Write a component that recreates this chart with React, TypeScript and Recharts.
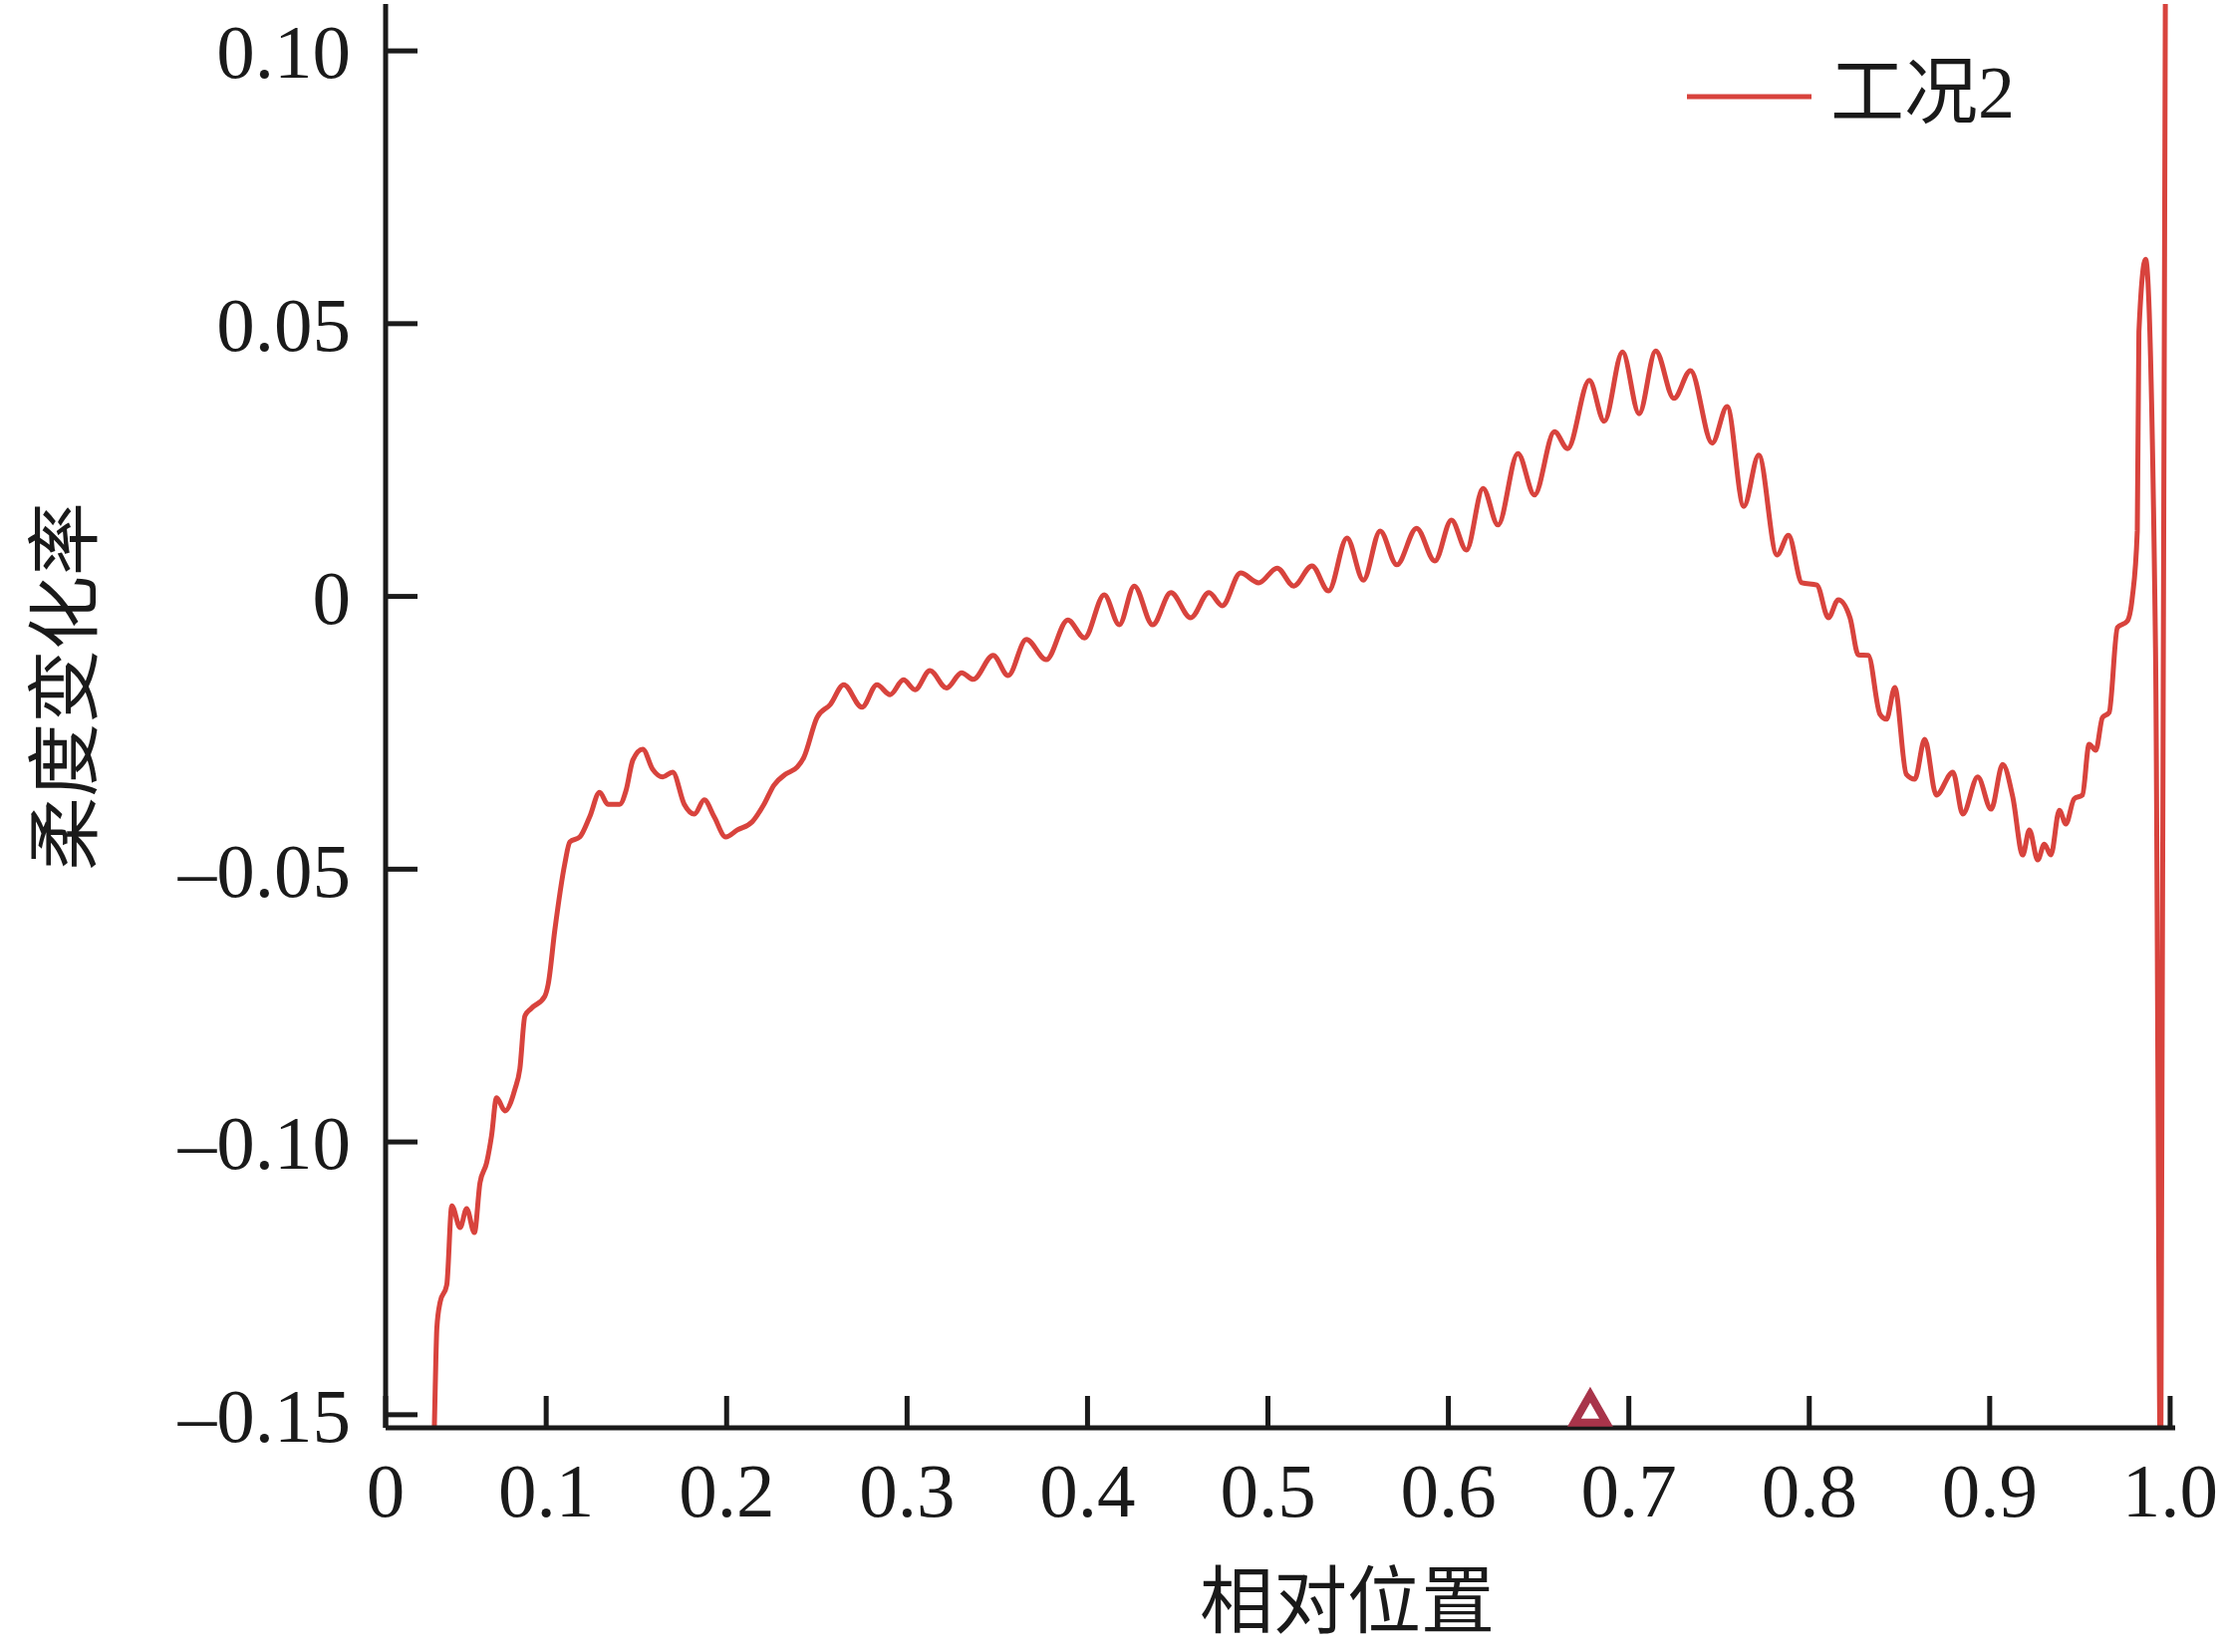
import { Label, Legend, LineChart, Line, ReferenceDot, XAxis, YAxis } from "recharts";

// axis range
const X_MIN = 0.011;
const X_MAX = 1.0028;
const Y_MIN = -0.1524;
const Y_MAX = 0.1086;

const X_TICKS = [X_MIN, 0.1, 0.2, 0.3, 0.4, 0.5, 0.6, 0.7, 0.8, 0.9, 1.0];
const X_TICK_LABELS = ["0", "0.1", "0.2", "0.3", "0.4", "0.5", "0.6", "0.7", "0.8", "0.9", "1.0"];
const Y_TICKS = [-0.15, -0.1, -0.05, 0, 0.05, 0.1];
const Y_TICK_LABELS = ["–0.15", "–0.10", "–0.05", "0", "0.05", "0.10"];

const SERIES_NAME = "工况2";

// 相对位置
const position = [
  0.0375, 0.0385, 0.0394, 0.0412, 0.0449, 0.0477, 0.0523, 0.0559, 0.0602, 0.0633,
  0.067, 0.0697, 0.0725, 0.0771, 0.0827, 0.0854, 0.0882, 0.0918, 0.0992, 0.1011,
  0.1048, 0.1103, 0.1131, 0.1186, 0.1241, 0.1296, 0.1342, 0.1407, 0.1443, 0.148,
  0.1535, 0.159, 0.1646, 0.1701, 0.1765, 0.1821, 0.1876, 0.1931, 0.1995, 0.206,
  0.2142, 0.2207, 0.2262, 0.2326, 0.2391, 0.2428, 0.2501, 0.2575, 0.2649, 0.275,
  0.2833, 0.2906, 0.298, 0.3044, 0.3127, 0.3219, 0.3302, 0.3367, 0.3477, 0.356,
  0.3661, 0.3771, 0.3891, 0.3983, 0.4093, 0.4176, 0.4259, 0.4361, 0.4462, 0.4572,
  0.4673, 0.4747, 0.4848, 0.4949, 0.5051, 0.5143, 0.5244, 0.5336, 0.5438, 0.5529,
  0.5622, 0.5714, 0.5824, 0.5925, 0.6017, 0.61, 0.6192, 0.6275, 0.6385, 0.6477,
  0.6588, 0.6661, 0.6781, 0.6864, 0.6965, 0.7057, 0.7149, 0.725, 0.7342, 0.7462,
  0.7545, 0.7637, 0.772, 0.7821, 0.7885, 0.7959, 0.8042, 0.8106, 0.8161, 0.8226,
  0.8272, 0.8327, 0.8392, 0.8428, 0.8474, 0.8538, 0.8585, 0.864, 0.8704, 0.8796,
  0.8851, 0.8934, 0.9008, 0.9072, 0.9128, 0.9183, 0.922, 0.9266, 0.9303, 0.9339,
  0.9386, 0.9422, 0.9468, 0.9514, 0.9551, 0.9588, 0.9625, 0.9662, 0.9708, 0.9763,
  0.979, 0.9818, 0.9827, 0.9864, 0.9919, 0.9948, 0.9975,
];

// 柔度变化率
const flexChange = [
  -0.16, -0.145, -0.1341, -0.1294, -0.1262, -0.1117, -0.1157, -0.1122, -0.1166, -0.1075,
  -0.1038, -0.0989, -0.0919, -0.0943, -0.0903, -0.0866, -0.0769, -0.0755, -0.0733, -0.0711,
  -0.0611, -0.049, -0.045, -0.0441, -0.0404, -0.0359, -0.0381, -0.0381, -0.0355, -0.03,
  -0.028, -0.0317, -0.0331, -0.0322, -0.0381, -0.0399, -0.0373, -0.0404, -0.0441, -0.0428,
  -0.0413, -0.0381, -0.0346, -0.0326, -0.0313, -0.0295, -0.0222, -0.0198, -0.0162, -0.0203,
  -0.0162, -0.018, -0.0153, -0.0171, -0.0136, -0.0168, -0.014, -0.0152, -0.0108, -0.0145,
  -0.0079, -0.0116, -0.0043, -0.0076, 0.0003, -0.0052, 0.0019, -0.0052, 0.0007, -0.0039,
  0.0007, -0.0017, 0.0043, 0.0025, 0.0052, 0.0019, 0.0056, 0.001, 0.0107, 0.003,
  0.012, 0.0058, 0.0125, 0.0065, 0.014, 0.0085, 0.0198, 0.0131, 0.0262, 0.0186,
  0.0302, 0.0271, 0.0396, 0.0321, 0.0448, 0.0335, 0.045, 0.0363, 0.0414, 0.0281,
  0.0348, 0.0165, 0.0259, 0.0076, 0.0112, 0.0025, 0.0021, -0.0039, -0.0006, -0.0039,
  -0.0107, -0.0108, -0.0216, -0.0225, -0.0167, -0.0326, -0.0335, -0.0262, -0.0364, -0.0322,
  -0.0399, -0.0331, -0.039, -0.0308, -0.0368, -0.0474, -0.0428, -0.0483, -0.0454, -0.0474,
  -0.0392, -0.0417, -0.0371, -0.0364, -0.0271, -0.0282, -0.0222, -0.0213, -0.0057, -0.0045,
  -0.0003, 0.012, 0.0485, 0.0618, -0.0094, -0.165, 0.125,
];

// open triangle marker on the bottom axis
const markX = [0.6786];
const markY = [-0.1489];

const data = position.map((x, i) => ({ x, y: flexChange[i] }));

const LINE_COLOR = "#d8433d";
const MARK_COLOR = "#a8344a";
const INK = "#1a1a1a";
const SERIF = "'Liberation Serif', 'Times New Roman', serif";
const CJK = "'Noto Sans CJK SC', sans-serif";

const Triangle = (props: any) => {
  const { cx, cy } = props;
  const d = `M${cx},${cy - 14} L${cx + 16},${cy + 14} L${cx - 16},${cy + 14} Z`;
  return <path d={d} fill="#fff" stroke={MARK_COLOR} strokeWidth={8} strokeLinejoin="miter" />;
};

const YTitle = () => (
  <text
    x={58}
    y={689}
    transform="rotate(-90, 58, 689)"
    textAnchor="middle"
    dominantBaseline="central"
    fontSize={74}
    fontFamily={CJK}
    fill={INK}
  >
    柔度变化率
  </text>
);

const XTitle = () => (
  <text x={1352} y={1600} textAnchor="middle" dominantBaseline="central" fontSize={74} fontFamily={CJK} fill={INK}>
    相对位置
  </text>
);

const LegendContent = () => (
  <svg width={420} height={110}>
    <line x1={13} y1={57} x2={138} y2={57} stroke={LINE_COLOR} strokeWidth={5} />
    <text x={157} y={53} dominantBaseline="central" fontSize={74} fontFamily={`${SERIF}, ${CJK}`} fill={INK}>
      {SERIES_NAME}
    </text>
  </svg>
);

export default function App() {
  const axisLine = { stroke: INK, strokeWidth: 5 };
  const tick = { fontSize: 77, fontFamily: SERIF, fill: INK };
  return (
    <div style={{ position: "absolute", left: 0, top: 0, width: 2234, height: 1658, background: "#fff" }}>
      <LineChart width={2234} height={1658} data={data} margin={{ top: 4, right: 51, bottom: 0, left: 0 }}>
        <XAxis
          dataKey="x"
          type="number"
          domain={[X_MIN, X_MAX]}
          ticks={X_TICKS}
          interval={0}
          allowDataOverflow
          height={225}
          tickSize={-32}
          tickMargin={66}
          tick={tick}
          tickFormatter={(v: number) => X_TICK_LABELS[X_TICKS.indexOf(v)]}
          axisLine={axisLine}
          tickLine={axisLine}
        >
          <Label content={XTitle} />
        </XAxis>
        <XAxis
          xAxisId="top"
          orientation="top"
          type="number"
          domain={[X_MIN, X_MAX]}
          height={0}
          tick={false}
          tickLine={false}
          axisLine={axisLine}
        />
        <YAxis
          type="number"
          domain={[Y_MIN, Y_MAX]}
          ticks={Y_TICKS}
          interval={0}
          allowDataOverflow
          width={387}
          tickSize={-32}
          tickMargin={67}
          tick={tick}
          tickFormatter={(v: number) => Y_TICK_LABELS[Y_TICKS.indexOf(v)]}
          axisLine={axisLine}
          tickLine={axisLine}
        >
          <Label content={YTitle} />
        </YAxis>
        <YAxis
          yAxisId="right"
          orientation="right"
          type="number"
          domain={[Y_MIN, Y_MAX]}
          width={0}
          tick={false}
          tickLine={false}
          axisLine={axisLine}
        />
        <Legend
          layout="horizontal"
          verticalAlign="middle"
          align="center"
          width={420}
          height={110}
          wrapperStyle={{ left: 1680, top: 40 }}
          content={LegendContent}
        />
        <Line
          type="monotone"
          dataKey="y"
          name={SERIES_NAME}
          stroke={LINE_COLOR}
          strokeWidth={5}
          dot={false}
          activeDot={false}
          isAnimationActive={false}
        />
        <ReferenceDot x={markX[0]} y={markY[0]} shape={Triangle} />
      </LineChart>
    </div>
  );
}
